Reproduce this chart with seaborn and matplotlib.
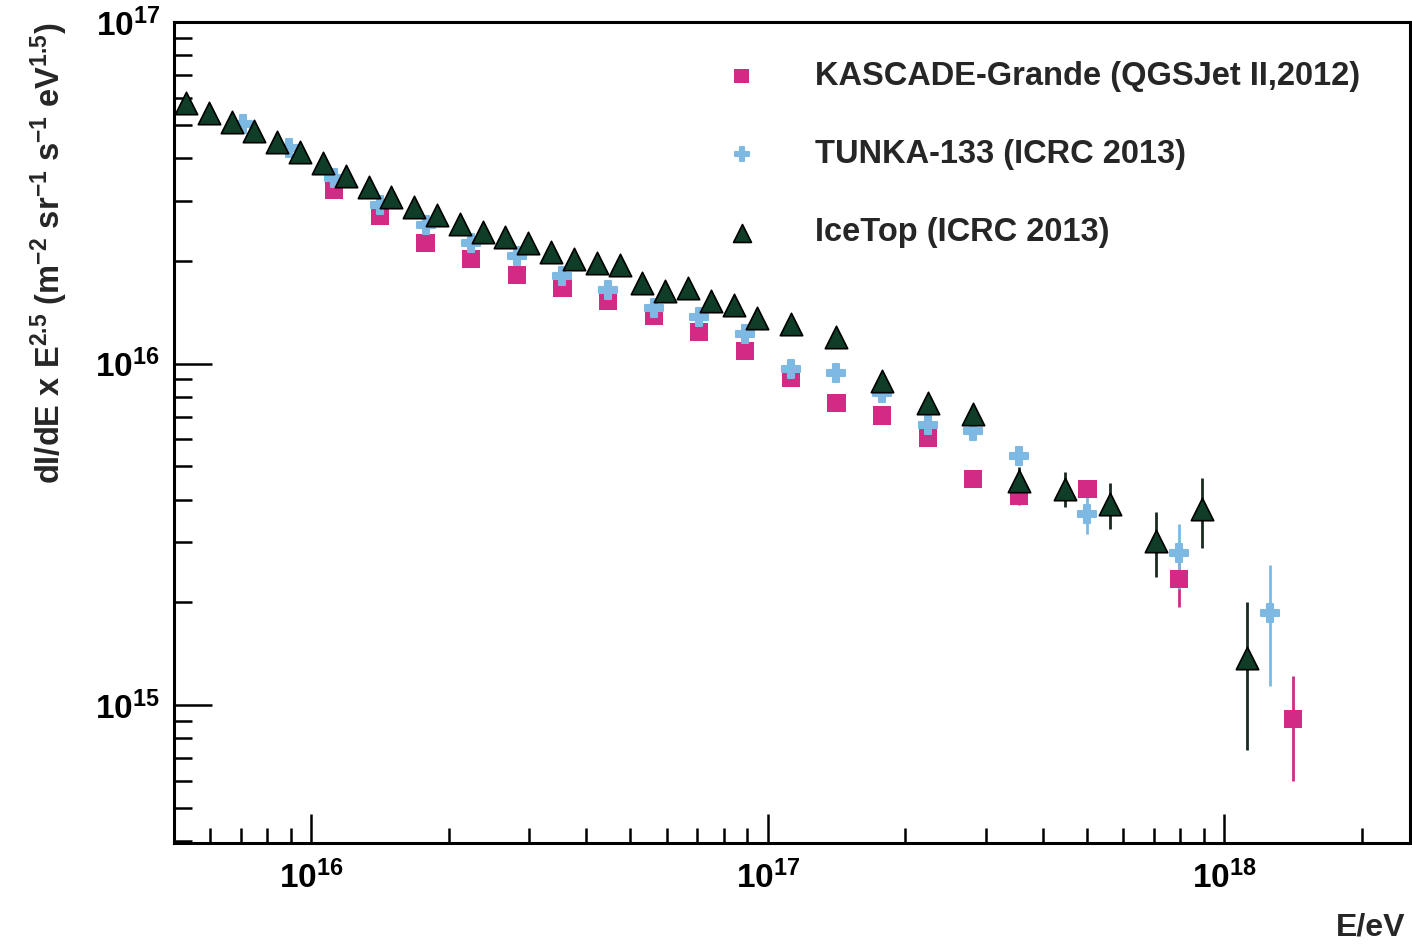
import matplotlib
matplotlib.use("Agg")
import matplotlib.pyplot as plt
import matplotlib.ticker as mticker
import seaborn as sns

# KASCADE-Grande (QGSJet II, 2012)
kg_E = [1.122e16, 1.413e16, 1.778e16, 2.239e16, 2.818e16, 3.548e16, 4.467e16, 5.623e16,
        7.079e16, 8.913e16, 1.122e17, 1.413e17, 1.778e17, 2.239e17, 2.818e17, 3.548e17,
        5.012e17, 7.943e17, 1.413e18]
kg_flux = [3.22e16, 2.70e16, 2.26e16, 2.03e16, 1.82e16, 1.67e16, 1.53e16, 1.38e16,
           1.24e16, 1.09e16, 9.10e15, 7.69e15, 7.05e15, 6.07e15, 4.60e15, 4.10e15,
           4.30e15, 2.34e15, 9.10e14]
kg_err = [0.3e15, 0.3e15, 0.25e15, 0.2e15, 0.2e15, 0.2e15, 0.2e15, 0.2e15,
          0.2e15, 0.2e15, 0.2e15, 0.2e15, 0.2e15, 0.2e15, 0.2e15, 0.25e15,
          0.25e15, 0.4e15, 0.31e15]

# TUNKA-133 (ICRC 2013)
tk_E = [7.079e15, 8.913e15, 1.122e16, 1.413e16, 1.778e16, 2.239e16, 2.818e16, 3.548e16,
        4.467e16, 5.623e16, 7.079e16, 8.913e16, 1.122e17, 1.413e17, 1.778e17, 2.239e17,
        2.818e17, 3.548e17, 5.012e17, 7.943e17, 1.259e18]
tk_flux = [5.02e16, 4.27e16, 3.49e16, 2.91e16, 2.54e16, 2.25e16, 2.07e16, 1.81e16,
           1.64e16, 1.45e16, 1.37e16, 1.22e16, 9.67e15, 9.41e15, 8.22e15, 6.62e15,
           6.36e15, 5.37e15, 3.63e15, 2.79e15, 1.86e15]
tk_err = [0.4e15, 0.4e15, 0.3e15, 0.3e15, 0.3e15, 0.3e15, 0.3e15, 0.2e15,
          0.2e15, 0.2e15, 0.2e15, 0.2e15, 0.2e15, 0.2e15, 0.25e15, 0.3e15,
          0.3e15, 0.3e15, 0.45e15, 0.6e15, 0.72e15]

# IceTop (ICRC 2013)
it_E = [5.309e15, 5.957e15, 6.683e15, 7.499e15, 8.414e15, 9.441e15, 1.059e16, 1.189e16,
        1.334e16, 1.496e16, 1.679e16, 1.884e16, 2.113e16, 2.371e16, 2.661e16, 2.985e16,
        3.350e16, 3.758e16, 4.217e16, 4.732e16, 5.309e16, 5.957e16, 6.683e16, 7.499e16,
        8.414e16, 9.441e16, 1.122e17, 1.413e17, 1.778e17, 2.239e17, 2.818e17, 3.548e17,
        4.467e17, 5.623e17, 7.079e17, 8.913e17, 1.122e18]
it_flux = [5.79e16, 5.41e16, 5.09e16, 4.79e16, 4.45e16, 4.16e16, 3.86e16, 3.54e16,
           3.28e16, 3.07e16, 2.87e16, 2.73e16, 2.57e16, 2.42e16, 2.34e16, 2.25e16,
           2.12e16, 2.03e16, 1.97e16, 1.94e16, 1.72e16, 1.63e16, 1.67e16, 1.53e16,
           1.48e16, 1.36e16, 1.31e16, 1.20e16, 8.91e15, 7.69e15, 7.13e15, 4.54e15,
           4.30e15, 3.88e15, 3.03e15, 3.76e15, 1.37e15]
it_err = [0.3e15, 0.3e15, 0.3e15, 0.3e15, 0.3e15, 0.3e15, 0.3e15, 0.3e15,
          0.3e15, 0.3e15, 0.3e15, 0.3e15, 0.3e15, 0.3e15, 0.3e15, 0.3e15,
          0.3e15, 0.3e15, 0.3e15, 0.3e15, 0.3e15, 0.3e15, 0.3e15, 0.3e15,
          0.3e15, 0.3e15, 0.3e15, 0.3e15, 0.3e15, 0.3e15, 0.3e15, 0.45e15,
          0.5e15, 0.6e15, 0.65e15, 0.87e15, 0.63e15]

labels = ["KASCADE-Grande (QGSJet II,2012)", "TUNKA-133 (ICRC 2013)", "IceTop (ICRC 2013)"]
colors = ["#d32a86", "#7db9e3", "#0f3d27"]

sns.set_style("ticks")
plt.rcParams['font.family'] = ['Liberation Sans', 'DejaVu Sans']
plt.rcParams['font.weight'] = 'bold'
plt.rcParams['mathtext.fontset'] = 'custom'
plt.rcParams['mathtext.rm'] = 'Liberation Sans:bold'
plt.rcParams['mathtext.bf'] = 'Liberation Sans:bold'
plt.rcParams['mathtext.it'] = 'Liberation Sans:bold'
plt.rcParams['mathtext.default'] = 'bf'

fig = plt.figure(figsize=(14.12, 9.46), dpi=100)
ax = fig.add_axes([174 / 1412, 103 / 946, 1236 / 1412, 821 / 946])
ax.set_xscale('log')
ax.set_yscale('log')

# error bars first, markers on top
ax.errorbar(kg_E, kg_flux, yerr=kg_err, fmt='none', ecolor=colors[0], elinewidth=2, zorder=2)
ax.errorbar(tk_E, tk_flux, yerr=tk_err, fmt='none', ecolor=colors[1], elinewidth=2, zorder=2)
ax.errorbar(it_E, it_flux, yerr=it_err, fmt='none', ecolor='#1a2a20', elinewidth=2, zorder=2)

sns.scatterplot(x=kg_E, y=kg_flux, ax=ax, marker='s', s=170, color=colors[0],
                edgecolor='none', linewidth=0, label=labels[0], zorder=3)
sns.scatterplot(x=tk_E, y=tk_flux, ax=ax, marker='P', s=150, color=colors[1],
                edgecolor=colors[1], linewidth=1.5, label=labels[1], zorder=4)
sns.scatterplot(x=it_E, y=it_flux, ax=ax, marker='^', s=260, color=colors[2],
                edgecolor='black', linewidth=1.2, label=labels[2], zorder=5)

ax.set_xlim(5.0e15, 2.55e18)
ax.set_ylim(3.95e14, 1e17)

for side in ['left', 'bottom', 'top', 'right']:
    ax.spines[side].set_visible(True)
    ax.spines[side].set_linewidth(2.2)
    ax.spines[side].set_color('black')

ax.xaxis.set_major_locator(mticker.LogLocator(base=10, numticks=10))
ax.xaxis.set_minor_locator(mticker.LogLocator(base=10, subs=range(2, 10), numticks=20))
ax.yaxis.set_major_locator(mticker.LogLocator(base=10, numticks=10))
ax.yaxis.set_minor_locator(mticker.LogLocator(base=10, subs=range(2, 10), numticks=20))
ax.xaxis.set_minor_formatter(mticker.NullFormatter())
ax.yaxis.set_minor_formatter(mticker.NullFormatter())

ax.tick_params(axis='both', which='both', direction='in', top=False, right=False,
               width=1.8, labelsize=24, colors='black')
ax.tick_params(axis='y', which='major', length=27, pad=10)
ax.tick_params(axis='y', which='minor', length=13)
ax.tick_params(axis='x', which='major', length=21, pad=13)
ax.tick_params(axis='x', which='minor', length=11)

ax.set_ylabel(r"dI/dE x E$^{2.5}$ (m$^{-2}$ sr$^{-1}$ s$^{-1}$ eV$^{1.5}$)",
              fontsize=23.5, fontweight='bold', loc='top')
ax.yaxis.set_label_coords(-0.084, 1.0)
ax.set_xlabel("E/eV", fontsize=23, fontweight='bold', loc='right')
ax.xaxis.set_label_coords(0.996, -0.085)

ax.legend(loc='upper left', bbox_to_anchor=(0.446, 0.953), frameon=False,
          prop={'family': 'Liberation Sans', 'weight': 'bold', 'size': 23.5},
          handlelength=1.0, handletextpad=1.75, labelspacing=1.45,
          borderpad=0, borderaxespad=0, markerscale=0.8)

fig.savefig("out.png", dpi=100, facecolor='white')
